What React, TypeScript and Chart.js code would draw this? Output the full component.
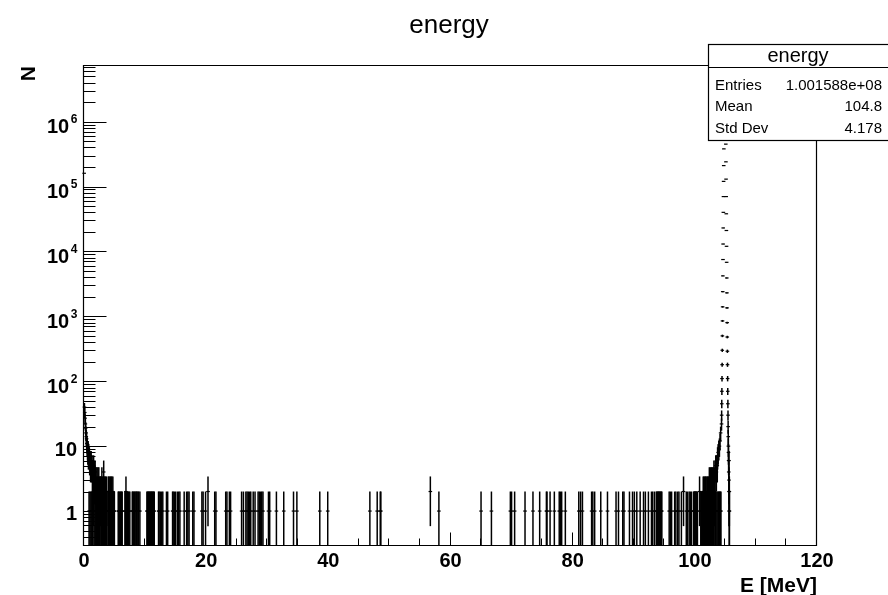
import React, { useEffect, useRef } from "react";
import { Chart, registerables } from "chart.js";

Chart.register(...registerables);

// ---------------- data ----------------
const X_MIN = 0;
const X_MAX = 120;
const Y_MIN = 0.307;
const Y_MAX = 7.45e6;

const xTickLabels = [0, 20, 40, 60, 80, 100, 120];
const yTickExponents = [0, 1, 2, 3, 4, 5, 6];

// 0 - 5 MeV, 0.05 MeV bins
const LOW_START = 0;
const LOW_BIN = 0.05;
const lowCounts = [
  160000, 40, 33, 27, 22, 19, 16, 14, 13, 11,
  10, 9, 8, 9, 7, 8, 1, 7, 6, 1,
  6, 5, 1, 6, 5, 1, 5, 4, 1, 4,
  2, 5, 1, 4, 3, 1, 4, 3, 1, 3,
  2, 1, 3, 2, 1, 3, 2, 1, 3, 2,
  1, 2, 1, 2, 2, 1, 2, 1, 3, 1,
  2, 1, 2, 1, 4, 1, 2, 1, 2, 1,
  2, 1, 1, 2, 1, 0, 0, 0, 1, 2,
  1, 2, 1, 1, 2, 1, 2, 1, 1, 2,
  1, 2, 1, 1, 2, 1, 1, 0, 1, 1,
];

// 5 - 99 MeV, isolated filled bins
const sparseEnergies = [
  5.6, 5.7, 5.8, 5.95, 6.05, 6.15, 6.25,
  6.7, 6.8, 6.87, 7.0, 7.1, 7.25, 7.35, 7.5,
  7.9, 8.0, 8.1, 8.25, 8.35, 8.5, 8.6, 8.7, 8.85, 8.95, 9.15,
  10.3, 10.4, 10.5, 10.6, 10.7, 10.8, 10.9, 11.0, 11.1, 11.2, 11.3, 11.4, 11.5,
  12.2, 12.3, 12.5, 12.7, 12.9, 13.5, 13.7, 14.5, 14.6, 14.8, 15.0, 15.3, 15.5, 15.7,
  16.4, 16.8, 17.0, 17.2, 17.8, 18.0, 19.3, 19.5, 19.9, 20.3, 21.4, 21.6,
  23.2, 23.4, 23.8, 24.0, 25.8, 26.1, 26.5, 26.7, 26.9, 27.1, 27.3, 27.7, 28.0,
  28.5, 28.7, 28.9, 29.1, 29.3, 30.2, 30.4, 31.5, 32.7, 34.3, 34.85, 38.6, 39.9,
  46.8, 48.0, 48.5, 48.6, 56.7, 58.1, 65.0, 66.7, 69.8, 70.0, 70.5, 72.2, 73.5, 74.6,
  75.7, 75.8, 76.3, 77.0, 77.8, 78.0, 78.2, 78.8, 81.0, 81.3, 81.6, 83.1, 83.3, 83.6,
  84.6, 85.7, 87.1, 87.5, 88.2, 88.4, 89.3, 89.8, 90.1, 90.5, 91.05, 91.6, 91.9, 92.4,
  92.9, 93.1, 93.4, 93.7, 93.8, 93.9, 94.0, 94.1, 94.2, 94.3, 94.4, 94.5, 94.6,
  95.8, 96.0, 96.2, 96.7, 96.9, 97.2, 97.4, 97.8, 98.15, 98.6, 98.8,
];
const sparseCounts = [
  1, 1, 1, 1, 1, 1, 1,
  1, 1, 2, 1, 1, 1, 1, 1,
  1, 1, 1, 1, 1, 1, 1, 1, 1, 1, 1,
  1, 1, 1, 1, 1, 1, 1, 1, 1, 1, 1, 1, 1,
  1, 1, 1, 1, 1, 1, 1, 1, 1, 1, 1, 1, 1, 1,
  1, 1, 1, 1, 1, 1, 1, 1, 1, 2, 1, 1,
  1, 1, 1, 1, 1, 1, 1, 1, 1, 1, 1, 1, 1,
  1, 1, 1, 1, 1, 1, 1, 1, 1, 1, 1, 1, 1,
  1, 1, 1, 1, 2, 1, 1, 1, 1, 1, 1, 1, 1, 1,
  1, 1, 1, 1, 1, 1, 1, 1, 1, 1, 1, 1, 1, 1,
  1, 1, 1, 1, 1, 1, 1, 1, 1, 1, 1, 1, 1, 1,
  1, 1, 1, 1, 1, 1, 1, 1, 1, 1, 1, 1, 1,
  1, 1, 1, 1, 1, 1, 1, 1, 2, 1, 1,
];

// 99 - 104.3 MeV, 0.05 MeV bins
const EDGE_START = 99.0;
const EDGE_BIN = 0.05;
const edgeCounts = [
  0, 1, 0, 0, 0, 1, 0, 0, 0, 1,
  0, 0, 0, 0, 0, 0, 1, 1, 0, 1,
  1, 1, 0, 1, 1, 0, 1, 0, 1, 0,
  0, 0, 0, 0, 0, 2, 0, 0, 0, 1,
  0, 1, 1, 0, 1, 1, 1, 2, 1, 2,
  1, 1, 2, 1, 2, 1, 2, 1, 1, 2,
  1, 2, 1, 2, 1, 2, 1, 3, 1, 2,
  3, 1, 2, 3, 1, 3, 2, 1, 3, 2,
  3, 1, 4, 2, 3, 1, 4, 1, 5, 1,
  4, 5, 1, 5, 7, 1, 8, 1, 9, 1,
  10, 1, 12, 1, 16, 1,
];

// peak, 0.02 MeV bins
const PEAK_START = 104.36;
const PEAK_BIN = 0.02;
const peakCounts = [
  22, 30, 45, 70, 110, 180, 300, 500, 850, 1400,
  2400, 4200, 7500, 13000, 23000, 40000, 70000, 120000, 210000, 380000,
  700000, 1300000, 2500000, 4500000, 8000000, 12000000, 16000000, 19000000, 18000000, 14000000,
  9500000, 5500000, 3000000, 1600000, 850000, 450000, 240000, 130000, 70000, 38000,
  21000, 12000, 6800, 3900, 2300, 1350, 800, 480, 290, 180,
  110, 70, 45, 30, 20, 14, 10, 8, 6, 4,
  6, 3, 2, 1, 2, 1,
];

const statsTitle = "energy";
const statsRows = [
  ["Entries", "1.001588e+08"],
  ["Mean", "104.8"],
  ["Std Dev", "4.178"],
];

// ---------------- build bins ----------------
type Bin = { x: number; n: number };
function buildBins(): Bin[] {
  const bins: Bin[] = [];
  lowCounts.forEach((n, i) => {
    if (n > 0) bins.push({ x: LOW_START + (i + 0.5) * LOW_BIN, n });
  });
  sparseEnergies.forEach((e, i) => {
    const n = sparseCounts[i] ?? 1;
    if (n > 0) bins.push({ x: e, n });
  });
  edgeCounts.forEach((n, i) => {
    if (n > 0) bins.push({ x: EDGE_START + (i + 0.5) * EDGE_BIN, n });
  });
  peakCounts.forEach((n, i) => {
    if (n > 0) bins.push({ x: PEAK_START + (i + 0.5) * PEAK_BIN, n });
  });
  return bins;
}

const FONT = '"Liberation Sans", Arial, Helvetica, sans-serif';

const rootDecor = {
  id: "rootDecor",
  afterDraw(chart: any) {
    const { ctx, chartArea: a, scales } = chart;
    const xs = scales.x;
    const ys = scales.y;
    ctx.save();
    ctx.strokeStyle = "#000";
    ctx.fillStyle = "#000";
    ctx.lineWidth = 1.2;

    // frame
    const L = a.left - 0.5;
    const R = a.right - 0.5;
    const T = a.top + 0.5;
    const B = a.bottom + 0.5;
    ctx.beginPath();
    ctx.moveTo(L, T);
    ctx.lineTo(R, T);
    ctx.lineTo(R, B);
    ctx.lineTo(L, B);
    ctx.closePath();
    ctx.stroke();

    // ticks
    ctx.lineWidth = 1;
    ctx.beginPath();
    for (let k = -1; k <= 7; k++) {
      for (let m = 1; m <= 9; m++) {
        const v = m * Math.pow(10, k);
        if (v < Y_MIN || v > Y_MAX) continue;
        const y = Math.round(ys.getPixelForValue(v)) + 0.5;
        const len = m === 1 ? 23 : 12;
        ctx.moveTo(L, y);
        ctx.lineTo(L + len, y);
      }
    }
    for (let v = X_MIN + 5; v < X_MAX; v += 5) {
      const x = Math.round(xs.getPixelForValue(v)) - 0.5;
      const len = v % 20 === 0 ? 13 : 7;
      ctx.moveTo(x, B);
      ctx.lineTo(x, B - len);
    }
    ctx.stroke();

    // x labels
    ctx.font = `bold 20px ${FONT}`;
    ctx.textAlign = "center";
    ctx.textBaseline = "alphabetic";
    xTickLabels.forEach((v) => {
      ctx.fillText(String(v), xs.getPixelForValue(v), 567);
    });

    // y labels
    yTickExponents.forEach((k) => {
      const y = ys.getPixelForValue(Math.pow(10, k));
      if (k === 0 || k === 1) {
        ctx.font = `bold 20px ${FONT}`;
        ctx.textAlign = "right";
        ctx.fillText(k === 0 ? "1" : "10", 77, y + 9.4);
      } else {
        ctx.font = `bold 12px ${FONT}`;
        const e = String(k);
        const ew = ctx.measureText(e).width;
        ctx.textAlign = "left";
        ctx.fillText(e, 77.3 - ew, y + 1.8);
        ctx.font = `bold 20px ${FONT}`;
        ctx.textAlign = "right";
        ctx.fillText("10", 77.3 - ew - 1.5, y + 11.8);
      }
    });

    // axis titles
    ctx.font = `bold 21px ${FONT}`;
    ctx.textAlign = "right";
    ctx.fillText("E [MeV]", a.right, 591.5);
    ctx.save();
    ctx.translate(35, 66);
    ctx.rotate(-Math.PI / 2);
    ctx.textAlign = "right";
    ctx.font = `bold 21px ${FONT}`;
    ctx.fillText("N", 0, 0);
    ctx.restore();

    // title
    ctx.font = `26px ${FONT}`;
    ctx.textAlign = "center";
    ctx.fillText("energy", 449, 33);

    // stats box
    const bx = 708.5, by = 44.5, bw = 181, bh = 96;
    ctx.fillStyle = "#fff";
    ctx.fillRect(bx, by, bw, bh);
    ctx.strokeStyle = "#000";
    ctx.lineWidth = 1.2;
    ctx.strokeRect(bx, by, bw, bh);
    ctx.beginPath();
    ctx.moveTo(bx, 67.5);
    ctx.lineTo(bx + bw, 67.5);
    ctx.stroke();
    ctx.fillStyle = "#000";
    ctx.font = `20px ${FONT}`;
    ctx.textAlign = "center";
    ctx.fillText(statsTitle, 798, 61.5);
    ctx.font = `15px ${FONT}`;
    const baselines = [89.5, 111, 133];
    statsRows.forEach((row, i) => {
      ctx.textAlign = "left";
      ctx.fillText(row[0], 715, baselines[i]);
      ctx.textAlign = "right";
      ctx.fillText(row[1], 882, baselines[i]);
    });
    ctx.restore();
  },
};

export default function App() {
  const ref = useRef<HTMLCanvasElement | null>(null);
  useEffect(() => {
    const bins = buildBins();
    const errBars = bins.map((b) => {
      const s = Math.sqrt(b.n);
      const lo = b.n - s > 0 ? b.n - s : 0.01;
      return { x: b.x, y: [lo, b.n + s] };
    });
    const marks = bins.map((b) => ({ x: b.x, y: b.n }));
    const chart = new Chart(ref.current as HTMLCanvasElement, {
      type: "bar",
      data: {
        datasets: [
          {
            type: "bar",
            data: errBars as any,
            backgroundColor: "#000",
            borderWidth: 0,
            barThickness: 1.5,
            inflateAmount: 0,
            clip: 0,
          } as any,
          {
            type: "scatter",
            data: marks as any,
            pointStyle: "line",
            pointRadius: 1.8,
            pointBorderWidth: 1.2,
            borderColor: "#000",
            backgroundColor: "#000",
            clip: { left: 3, top: 0, right: 0, bottom: 0 },
          } as any,
        ],
      },
      options: {
        animation: false,
        responsive: false,
        devicePixelRatio: 1,
        events: [],
        layout: { padding: { left: 84, top: 65, right: 71, bottom: 50 } },
        plugins: { legend: { display: false }, tooltip: { enabled: false }, title: { display: false } },
        scales: {
          x: { type: "linear", min: X_MIN, max: X_MAX, display: false, offset: false, grid: { offset: false } },
          y: { type: "logarithmic", min: Y_MIN, max: Y_MAX, display: false },
        },
      } as any,
      plugins: [rootDecor],
    });
    return () => chart.destroy();
  }, []);
  return (
    <div style={{ position: "fixed", left: 0, top: 0, width: 888, height: 595, background: "#fff" }}>
      <canvas ref={ref} width={888} height={595} style={{ width: 888, height: 595, display: "block" }} />
    </div>
  );
}
